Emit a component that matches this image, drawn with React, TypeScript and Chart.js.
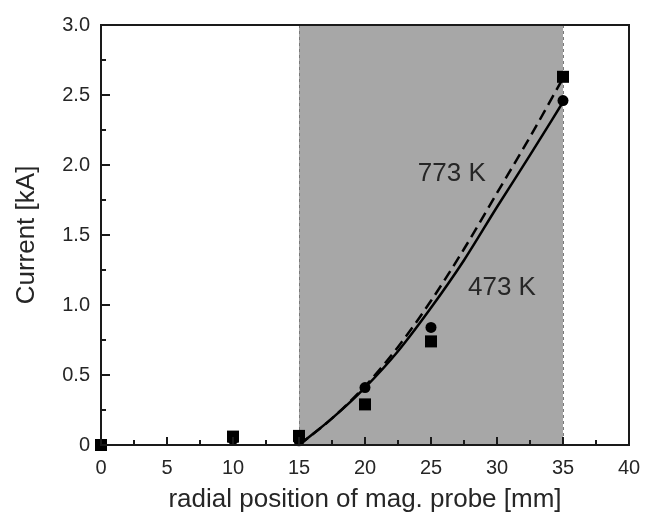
import React, { useEffect, useRef } from "react";
import { Chart, registerables } from "chart.js";

Chart.register(...registerables);

// ---- data ----
const squareX = [0, 10, 15, 20, 25, 35];
const squareY = [0, 0.06, 0.065, 0.29, 0.74, 2.63];
const circleX = [0, 10, 15, 20, 25, 35];
const circleY = [0, 0.04, 0.03, 0.41, 0.84, 2.46];

const curveX = [15, 17.5, 20, 22.5, 25, 27.5, 30, 32.5, 35];
const solidY = [0, 0.19, 0.41, 0.67, 0.98, 1.32, 1.7, 2.07, 2.45];
const dashedY = [0, 0.19, 0.42, 0.7, 1.03, 1.4, 1.8, 2.2, 2.62];

const shadeRange = [15, 35];

const xTicks = [0, 5, 10, 15, 20, 25, 30, 35, 40];
const xMinorTicks = [2.5, 7.5, 12.5, 17.5, 22.5, 27.5, 32.5, 37.5];
const yTicks = [0, 0.5, 1, 1.5, 2, 2.5, 3];
const yTickLabels = ["0", "0.5", "1.0", "1.5", "2.0", "2.5", "3.0"];
const yMinorTicks = [0.25, 0.75, 1.25, 1.75, 2.25, 2.75];

const labelTexts = ["773 K", "473 K"];
const labelX = [24.0, 27.8];
const labelY = [1.885, 1.07];

const xTitle = "radial position of mag. probe [mm]";
const yTitle = "Current [kA]";

const FONT = "'Liberation Sans', Arial, Helvetica, sans-serif";
const TEXT = "#262626";

const zip = (xs: number[], ys: number[]) => xs.map((x, i) => ({ x, y: ys[i] }));

const decorPlugin = {
  id: "decor",
  beforeDatasetsDraw(chart: any) {
    const { ctx, chartArea, scales } = chart;
    const x = scales.x;
    const x0 = x.getPixelForValue(shadeRange[0]);
    const x1 = x.getPixelForValue(shadeRange[1]);
    ctx.save();
    ctx.fillStyle = "#a7a7a7";
    ctx.fillRect(x0, chartArea.top, x1 - x0, chartArea.bottom - chartArea.top);
    ctx.strokeStyle = "#7a7a7a";
    ctx.lineWidth = 1;
    ctx.setLineDash([3, 3]);
    [x0, x1].forEach((px) => {
      ctx.beginPath();
      ctx.moveTo(Math.round(px) + 0.5, chartArea.top);
      ctx.lineTo(Math.round(px) + 0.5, chartArea.bottom);
      ctx.stroke();
    });
    ctx.restore();
  },
  afterDraw(chart: any) {
    const { ctx, chartArea, scales } = chart;
    const xs = scales.x;
    const ys = scales.y;
    ctx.save();
    // frame
    ctx.strokeStyle = "#1a1a1a";
    ctx.lineWidth = 2;
    ctx.setLineDash([]);
    ctx.strokeRect(chartArea.left, chartArea.top, chartArea.right - chartArea.left, chartArea.bottom - chartArea.top);
    // ticks (inward)
    const tick = (px: number, len: number, horiz: boolean) => {
      ctx.beginPath();
      if (horiz) {
        ctx.moveTo(px, chartArea.bottom);
        ctx.lineTo(px, chartArea.bottom - len);
      } else {
        ctx.moveTo(chartArea.left, px);
        ctx.lineTo(chartArea.left + len, px);
      }
      ctx.stroke();
    };
    xTicks.forEach((v) => tick(xs.getPixelForValue(v), 8, true));
    xMinorTicks.forEach((v) => tick(xs.getPixelForValue(v), 5, true));
    yTicks.forEach((v) => tick(ys.getPixelForValue(v), 9, false));
    yMinorTicks.forEach((v) => tick(ys.getPixelForValue(v), 5, false));
    // labels
    ctx.fillStyle = TEXT;
    ctx.font = `26px ${FONT}`;
    ctx.textAlign = "left";
    ctx.textBaseline = "alphabetic";
    labelTexts.forEach((t, i) => {
      ctx.fillText(t, xs.getPixelForValue(labelX[i]), ys.getPixelForValue(labelY[i]));
    });
    ctx.restore();
  },
};

export default function App() {
  const ref = useRef<HTMLCanvasElement | null>(null);
  useEffect(() => {
    if (!ref.current) return;
    const chart = new Chart(ref.current, {
      type: "scatter",
      data: {
        datasets: [
          {
            label: "773 K data",
            data: zip(squareX, squareY),
            pointStyle: "rect",
            pointRadius: 8.5,
            pointBackgroundColor: "#000",
            pointBorderColor: "#000",
            pointBorderWidth: 0,
            showLine: false,
            clip: false,
          },
          {
            label: "473 K data",
            data: zip(circleX, circleY),
            pointStyle: "circle",
            pointRadius: 5.5,
            pointBackgroundColor: "#000",
            pointBorderColor: "#000",
            pointBorderWidth: 0,
            showLine: false,
            clip: false,
          },
          {
            label: "773 K fit",
            data: zip(curveX, dashedY),
            showLine: true,
            borderColor: "#000",
            borderWidth: 2.5,
            borderDash: [11, 6],
            pointRadius: 0,
            cubicInterpolationMode: "monotone",
            fill: false,
          },
          {
            label: "473 K fit",
            data: zip(curveX, solidY),
            showLine: true,
            borderColor: "#000",
            borderWidth: 2.5,
            pointRadius: 0,
            cubicInterpolationMode: "monotone",
            fill: false,
          },
        ],
      },
      options: {
        animation: false,
        responsive: true,
        maintainAspectRatio: false,
        events: [],
        layout: { padding: { left: 0, right: 17, top: 25, bottom: 0 } },
        plugins: { legend: { display: false }, tooltip: { enabled: false } },
        scales: {
          x: {
            type: "linear",
            min: 0,
            max: 40,
            afterBuildTicks: (s: any) => {
              s.ticks = xTicks.map((v) => ({ value: v }));
            },
            afterFit: (s: any) => {
              s.height = 71;
              s.paddingLeft = 0;
              s.paddingRight = 0;
            },
            grid: { display: false, drawTicks: false },
            border: { display: false },
            ticks: {
              padding: 11,
              color: TEXT,
              font: { family: FONT, size: 20 },
              maxRotation: 0,
              autoSkip: false,
              callback: (v: any) => String(v),
            },
            title: {
              display: true,
              text: xTitle,
              color: TEXT,
              font: { family: FONT, size: 26 },
              padding: { top: 0, bottom: 1 },
            },
          },
          y: {
            type: "linear",
            min: 0,
            max: 3,
            afterBuildTicks: (s: any) => {
              s.ticks = yTicks.map((v) => ({ value: v }));
            },
            afterFit: (s: any) => {
              s.width = 101;
              s.paddingTop = 0;
              s.paddingBottom = 0;
            },
            grid: { display: false, drawTicks: false },
            border: { display: false },
            ticks: {
              padding: 11,
              color: TEXT,
              font: { family: FONT, size: 20 },
              autoSkip: false,
              callback: (v: any) => {
                const i = yTicks.indexOf(Number(v));
                return i >= 0 ? yTickLabels[i] : "";
              },
            },
            title: {
              display: true,
              text: yTitle,
              color: TEXT,
              font: { family: FONT, size: 26 },
              padding: { top: 11, bottom: 0 },
            },
          },
        },
      },
      plugins: [decorPlugin],
    });
    return () => chart.destroy();
  }, []);
  return (
    <div style={{ position: "fixed", left: 0, top: 0, width: 646, height: 516, background: "#fff" }}>
      <canvas ref={ref} />
    </div>
  );
}
